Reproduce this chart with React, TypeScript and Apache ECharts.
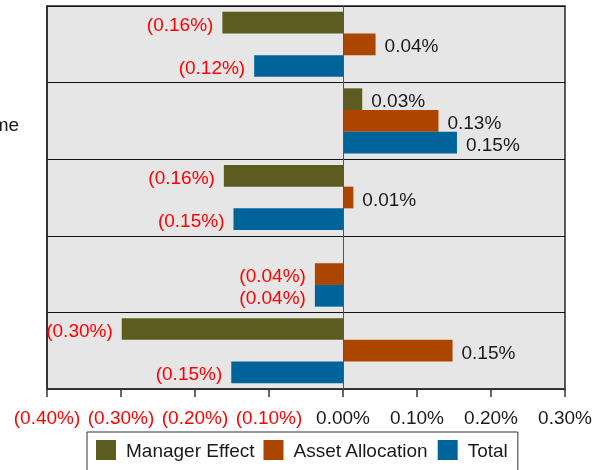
import React, { useEffect, useRef } from "react";
import * as echarts from "echarts";

const categories = ["Equity", "Fixed Income", "Global", "Cash", "Other"];
const seriesNames = ["Manager Effect", "Asset Allocation", "Total"];
const managerEffect = [-0.163, 0.026, -0.161, 0, -0.299];
const assetAllocation = [0.044, 0.129, 0.014, -0.038, 0.148];
const total = [-0.12, 0.154, -0.148, -0.038, -0.151];
const xTicks = { min: -0.4, max: 0.3, interval: 0.1 };

const colors = ["#5c5c20", "#ab4500", "#00649b"];
const FONT = "'Liberation Sans', Arial, Helvetica, sans-serif";

const fmt = (v: number) =>
  v < 0 ? `(${Math.abs(v).toFixed(2)}%)` : `${v.toFixed(2)}%`;

export default function App() {
  const ref = useRef<HTMLDivElement>(null);
  useEffect(() => {
    if (!ref.current) return;
    const chart = echarts.init(ref.current, undefined, { renderer: "svg" });
    const mk = (name: string, vals: number[], color: string, withZero: boolean) => ({
      name,
      type: "bar",
      barGap: "0%",
      barCategoryGap: "15%",
      itemStyle: { color },
      data: vals.map((v) => ({
        value: v,
        label: {
          show: v !== 0,
          position: v < 0 ? "left" : "right",
          color: v < 0 ? "#ff0000" : "#1a1a1a",
        },
      })),
      label: {
        show: true,
        distance: 9,
        fontSize: 19,
        fontFamily: FONT,
        offset: [0, 1.5],
        formatter: (p: any) => fmt(p.value),
      },
      markLine: withZero
        ? {
            silent: true,
            symbol: "none",
            label: { show: false },
            lineStyle: { color: "#555", width: 1, type: "solid" },
            data: [{ xAxis: 0 }],
          }
        : undefined,
    });
    chart.setOption({
      animation: false,
      color: colors,
      grid: {
        left: 47,
        right: 40,
        top: 6,
        bottom: 81,
        containLabel: false,
        outerBoundsMode: "none",
        show: true,
        backgroundColor: "#e6e6e6",
        borderColor: "#262626",
        borderWidth: 1.5,
      },
      legend: {
        data: seriesNames,
        left: 87,
        top: 432,
        orient: "horizontal",
        icon: "rect",
        itemWidth: 20,
        itemHeight: 20,
        itemGap: 9,
        padding: [8, 10, 14, 9],
        borderColor: "#333",
        borderWidth: 1,
        textStyle: {
          fontSize: 19,
          fontFamily: FONT,
          color: "#1a1a1a",
          padding: [0, 0, 0, 5],
        },
      },
      xAxis: {
        type: "value",
        min: xTicks.min,
        max: xTicks.max,
        interval: xTicks.interval,
        axisLine: { show: true, lineStyle: { color: "#333", width: 1.5 } },
        axisTick: { show: true, length: 8, lineStyle: { color: "#333", width: 1.5 } },
        splitLine: { show: false },
        axisLabel: {
          margin: 19,
          fontSize: 19,
          fontFamily: FONT,
          showMinLabel: true,
          showMaxLabel: true,
          hideOverlap: false,
          formatter: (v: number) => {
            const r = Math.round(v * 100) / 100;
            return r < 0 ? `{neg|${fmt(r)}}` : `{pos|${fmt(r)}}`;
          },
          rich: {
            neg: { color: "#ff0000", fontSize: 19, fontFamily: FONT },
            pos: { color: "#1a1a1a", fontSize: 19, fontFamily: FONT },
          },
        },
      },
      yAxis: {
        type: "category",
        inverse: true,
        data: categories,
        axisLine: { show: true, onZero: false, lineStyle: { color: "#262626", width: 1.5 } },
        axisTick: { show: false },
        splitLine: { show: true, lineStyle: { color: "#111", width: 1 } },
        axisLabel: {
          align: "center",
          margin: 85,
          fontSize: 19,
          fontFamily: FONT,
          color: "#1a1a1a",
          formatter: (v: string) => `{s| }\n{t|${v}}`,
          rich: {
            s: { fontSize: 8, lineHeight: 8, fontFamily: FONT },
            t: { fontSize: 19, lineHeight: 20, fontFamily: FONT, color: "#1a1a1a" },
          },
        },
      },
      series: [
        mk(seriesNames[0], managerEffect, colors[0], true),
        mk(seriesNames[1], assetAllocation, colors[1], false),
        mk(seriesNames[2], total, colors[2], false),
      ],
    });
    return () => chart.dispose();
  }, []);
  return (
    <div
      ref={ref}
      style={{ position: "fixed", left: 0, top: 0, width: 605, height: 470 }}
    />
  );
}
